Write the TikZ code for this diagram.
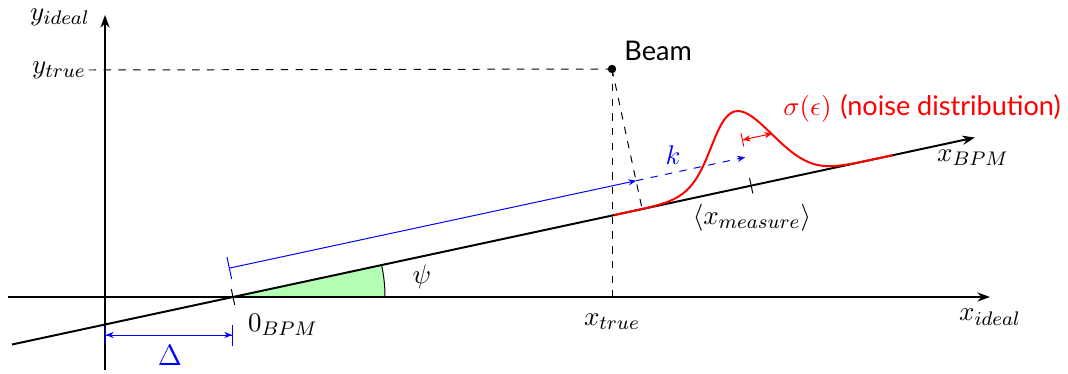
\documentclass[tikz,border=0pt]{standalone}
\usepackage{fontspec}
\newfontfamily\labelfont{Lato}
\usetikzlibrary{
  positioning,
  arrows.meta,
  calc
}
\definecolor{psiGreen}{HTML}{B3FFB3}

\begin{document}
\begin{tikzpicture}[
  x=0.7143cm, y=0.7143cm,
  every node/.style={inner sep=1pt, font=\fontsize{11}{13}\selectfont},
  axis/.style={thick, -{Stealth[length=1.8mm, width=1.3mm]}},
  guide/.style={thin, dashed},
  tickmark/.style={thin},
  dimline/.style={blue, thin},
  noise/.style={red, thick},
  smalltip/.tip={Stealth[length=1.1mm, width=0.9mm]}
]
 \useasboundingbox (-2.1,-1.52) rectangle (19.26,5.94);

 % Ideal frame
 \coordinate (o)  at ( 0.00, 0.00);
 \coordinate (xl) at (-1.94, 0.00);
 \coordinate (xr) at (17.70, 0.00);
 \coordinate (yb) at ( 0.00,-1.46);
 \coordinate (yt) at ( 0.00, 5.64);
 \coordinate (beam) at (10.14, 4.56);
 \coordinate (zero) at ( 2.56, 0.00);

 % angle between the two frames
 \fill[psiGreen] (zero) -- ++(3.04,0) coordinate (wa)
   arc[start angle=0, end angle=12.13, radius=3.04] -- cycle;
 \draw[thin] (wa) arc[start angle=0, end angle=12.13, radius=3.04];

 \draw[axis] (xl) -- (xr);
 \draw[axis] (yb) -- (yt);
 \node (xideal) at (17.70,-0.40) {$x_{ideal}$};
 \node (yideal) at (-0.90, 5.60) {$y_{ideal}$};

 % BPM frame, turned by psi about its zero
 \begin{scope}[shift={(zero)}, rotate=12.13]
  \coordinate (bl)   at (-4.52, 0.00);
  \coordinate (br)   at (15.18, 0.00);
  \coordinate (foot) at ( 8.37, 0.00);
  \coordinate (k0)   at ( 0.04, 0.58);
  \coordinate (kf)   at ( 8.37, 0.58);
  \coordinate (km)   at (10.60, 0.58);
  \coordinate (s0)   at (10.61, 0.93);
  \coordinate (s1)   at (11.23, 0.93);
  \draw[axis] (bl) -- (br);
  \draw[tickmark] (0,-0.16) -- (0,0.16);
  \draw[tickmark] (10.6,-0.16) -- (10.6,0.16);
  \draw[noise, domain=7.8:13.5, samples=100]
    plot (\x, {1.52*exp(-0.5*((\x-10.6)/0.62)^2)});
 \end{scope}

 % beam and its projections
 \fill (beam) circle[radius=1.7pt];
 \node[anchor=south west] (beamtxt) at ($(beam)+(0.19,0.11)$) {\labelfont Beam};
 \node (ytrue) at (-0.92, 4.54) {$y_{true}$};
 \node (xtrue) at (10.14,-0.50) {$x_{true}$};
 \coordinate (xtop) at (10.14,-0.10);
 \draw[guide] (ytrue.east) -- (beam);
 \draw[guide] (beam) -- (xtop);
 \draw[guide] (beam) -- (foot);

 % distances
 \draw[dimline, {Bar[width=3.2mm]}-{smalltip[]}] (k0) -- (kf);
 \draw[dimline, dashed, -{smalltip[]}] (kf) -- (km);
 \node[blue] (klbl) at (11.36, 2.84) {$k$};

 \coordinate (d0) at (0.00,-0.76);
 \coordinate (d1) at (2.56,-0.76);
 \draw[dimline, {Bar[width=2.6mm]smalltip[]}-{smalltip[]Bar[width=3mm]}] (d0) -- (d1);
 \node[blue, font=\large] (dlbl) at (1.30,-1.16) {$\Delta$};

 \draw[red, thin, {Bar[width=1.9mm]smalltip[]}-{smalltip[]}] (s0) -- (s1);
 \node[red] (siglbl) at (16.34, 3.78) {$\sigma(\epsilon)$ \labelfont (noise distribution)};

 % remaining labels
 \node (zlbl)   at ( 3.56,-0.56) {$0_{BPM}$};
 \node (psilbl) at ( 6.34, 0.40) {$\psi$};
 \node (xmeas)  at (12.94, 1.58) {$\langle x_{measure}\rangle$};
 \node (xbpm)   at (17.36, 2.78) {$x_{BPM}$};
\end{tikzpicture}
\end{document}
